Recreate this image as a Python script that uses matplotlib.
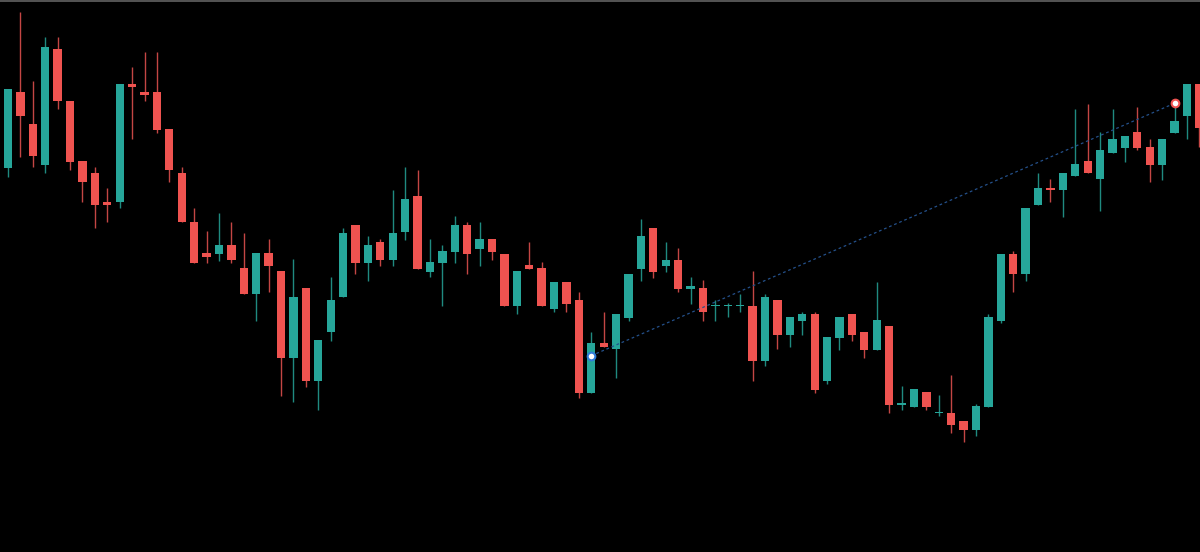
import matplotlib
matplotlib.use("Agg")
import matplotlib.pyplot as plt
from matplotlib.lines import Line2D
import numpy as np

# OHLC values (price units, higher = up)
opens = [384.3, 460, 428, 387.3, 503, 451, 390.7, 378.7, 350.3, 350,
         468.3, 460, 460, 422.7, 379, 330.3, 298.7, 298, 307, 284,
         257.7, 298.7, 280.7, 194.3, 263.7, 171, 219.7, 254.7, 327, 289.3,
         310.3, 292, 320.3, 356, 280, 289.3, 300, 327, 303.3, 312.7,
         298, 246, 286.7, 284, 243, 269.7, 252, 159.3, 208.7, 202.7,
         234, 283.3, 324, 286.3, 292, 263, 263.7, 246, 246, 246,
         246.3, 191.3, 252, 217.3, 231.3, 238.3, 170.7, 214, 238.3, 220,
         202, 226.3, 147.5, 145, 159.7, 139, 139.3, 131, 121.7, 145.3,
         231.3, 298.3, 278, 347, 364.3, 361.7, 375.7, 390.7, 372.7, 399,
         404.3, 419.7, 404.7, 387.3, 419.3, 436.3, 468]
highs = [463, 540.3, 471.3, 514.7, 514.7, 451, 391, 384.7, 364.3, 468,
         485.3, 500, 500, 423, 384.7, 344.3, 321.3, 339.3, 330.3, 318.7,
         298.7, 312.7, 280.7, 292.7, 263.7, 211.7, 275.3, 323.7, 327, 315.7,
         312.7, 362, 384.7, 382, 312.7, 307, 336, 330, 330.3, 312.7,
         298, 280.7, 310, 289.7, 269.7, 269.7, 260.3, 219.7, 240.3, 238,
         278.3, 332.7, 324, 310, 303.7, 275, 272, 252, 248.7, 258,
         281, 258, 252, 234.7, 240.3, 240.3, 214.7, 235, 238.3, 220,
         270, 226.3, 166, 162.7, 159.7, 157, 176.7, 131, 147.7, 238.3,
         298.3, 300.7, 344, 379, 373, 379, 442.7, 448, 419.7, 442.7,
         416.3, 445.3, 413, 413, 448.7, 468.5, 468]
lows = [375.3, 395.3, 384.7, 378.7, 442.7, 382, 349.7, 323.7, 329.7, 343.7,
        412.7, 451, 419.3, 370.3, 329.7, 289.3, 289.3, 291.3, 289.3, 257.7,
        231, 259.7, 156.3, 150.3, 165.3, 142.3, 211, 254.7, 278, 271.3,
        286, 286, 312, 283, 274.7, 246, 289.3, 278, 286, 292,
        246, 237.7, 283, 246, 239.7, 239.7, 153.7, 159.3, 205.3, 173.7,
        231.3, 271.3, 274.3, 280, 260.3, 248, 231.3, 231.3, 234.7, 240.3,
        171, 186, 202.7, 205.3, 217.3, 159.3, 167.7, 202, 211, 194,
        202, 138.7, 142, 145, 142, 136, 118.7, 110.3, 115.7, 145.3,
        228.7, 260, 271.3, 347, 350, 335.3, 375.7, 378.7, 340.7, 399,
        390.3, 402, 370.3, 372.3, 419.3, 412.7, 405.3]
closes = [462.7, 436.3, 396, 505.5, 451, 390.3, 370.3, 347, 347, 468,
          464.7, 456.7, 422, 382, 329.7, 289.3, 294.7, 307, 292, 257.7,
          298.7, 286.3, 194.3, 255, 171, 211.7, 252, 318.7, 289.3, 307,
          292, 318.7, 352.7, 283, 290, 301, 327, 298, 312.7, 300.3,
          246, 280.7, 283, 246, 269.7, 248.3, 159.3, 208.7, 205.3, 238,
          278.3, 315.7, 280, 292, 262.7, 266.3, 240, 246.5, 246.5, 246.5,
          191.3, 254.7, 217.3, 234.7, 238.3, 162, 214.7, 235, 217.3, 202,
          232, 147.3, 148, 162.7, 145, 139.5, 127, 121.7, 146, 235,
          298.3, 278, 344, 364.3, 361.7, 379, 387.7, 378.7, 402.3, 413,
          416.3, 404.3, 387.3, 413, 431, 468.5, 424.3]

# drawn trend line (bar index, price)
trend_x = [47, 94]
trend_y = [196.3, 448.7]

UP = "#26a69a"
DOWN = "#ef5350"
UP_WICK = "#1f8a80"
DOWN_WICK = "#c44644"

fig = plt.figure(figsize=(12, 5.52), dpi=100, facecolor="black")
ax = fig.add_axes([0, 0, 1, 1])
ax.set_facecolor("black")

idx = np.arange(len(opens))
o = np.array(opens); h = np.array(highs); l = np.array(lows); c = np.array(closes)
up = c >= o
colors = [UP if u else DOWN for u in up]
wick_colors = [UP_WICK if u else DOWN_WICK for u in up]

ax.vlines(idx, l, h, colors=wick_colors, linewidth=1.0, zorder=2)
bottoms = np.minimum(o, c)
heights = np.maximum(np.abs(c - o), 1.2)
ax.bar(idx, heights, bottom=bottoms, width=0.67, color=colors,
       edgecolor="none", zorder=3)

# trend line with end markers
ax.plot(trend_x, trend_y, linestyle=(0, (2.2, 2.2)), color="#24508a",
        linewidth=0.9, zorder=4)
ax.plot(trend_x[0], trend_y[0], marker="o", markersize=5.5,
        markerfacecolor="white", markeredgecolor="#2f7bd8",
        markeredgewidth=1.5, zorder=5)
ax.plot(trend_x[1], trend_y[1], marker="o", markersize=5.5,
        markerfacecolor="white", markeredgecolor="#ef5350",
        markeredgewidth=1.5, zorder=5)

ax.set_xlim(-0.645, 96.05)
ax.set_ylim(0, 552)
ax.axis("off")

# thin grey top border
fig.add_artist(Line2D([0, 1], [0.998, 0.998], transform=fig.transFigure,
                      color="#555555", linewidth=1.4))

fig.savefig("out.png", dpi=100, facecolor="black")
